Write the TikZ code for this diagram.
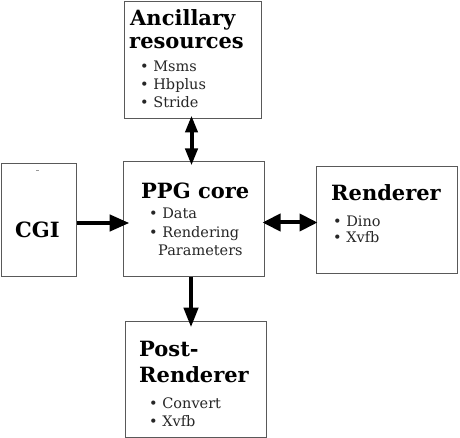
\documentclass[tikz,border=0pt]{standalone}
\usepackage{fontspec}
\setmainfont{DejaVu Serif}
\usetikzlibrary{arrows.meta}
\begin{document}
\begin{tikzpicture}[x=1pt,y=-1pt,
  box/.style={draw=black!65,line width=1pt,fill=white,inner sep=0pt},
  ttl/.style={anchor=base west,inner sep=0pt,font=\fontsize{21}{24}\selectfont\bfseries},
  itm/.style={anchor=base west,inner sep=0pt,text=black!85,font=\fontsize{14.5}{16}\selectfont},
  arr/.style={line width=4.5pt,shorten >=-7pt,-{Triangle[width=16pt,length=20pt]}},
  dbl/.style={line width=4pt,shorten >=-4pt,shorten <=-4pt,{Triangle[width=12pt,length=17pt]}-{Triangle[width=12pt,length=17pt]}}]
\useasboundingbox (0,0) rectangle (460,438);
% boxes
\node[box,minimum width=137pt,minimum height=117pt] (anc) at (192.5,60.5) {};
\node[box,minimum width=75pt,minimum height=112pt] (cgi) at (38.5,220) {};
\node[box,minimum width=141pt,minimum height=114pt] (core) at (193.5,219) {};
\node[box,minimum width=141pt,minimum height=106pt] (rend) at (386.5,220) {};
\node[box,minimum width=141pt,minimum height=116pt] (post) at (195.5,379) {};
% speck
\fill[black!40] (36,170.5) rectangle (39,171.5);
% texts
\node[ttl] (ancA) at (130,26) {Ancillary};
\node[ttl] (ancB) at (129,49) {resources};
\node[itm] (anc1) at (140,72) {• Msms};
\node[itm] (anc2) at (140,90) {• Hbplus};
\node[itm] (anc3) at (140,108) {• Stride};
\node[ttl] (cgiT) at (15,238) {CGI};
\node[ttl] (coreT) at (141,199) {PPG core};
\node[itm] (core1) at (149,219) {• Data};
\node[itm] (core2) at (149,237) {• Rendering};
\node[itm] (core3) at (158,255) {Parameters};
\node[ttl] (rendT) at (331,201) {Renderer};
\node[itm] (rend1) at (333,226) {• Dino};
\node[itm] (rend2) at (333,243) {• Xvfb};
\node[ttl] (postA) at (139,356) {Post-};
\node[ttl] (postB) at (139,382) {Renderer};
\node[itm] (post1) at (149,408) {• Convert};
\node[itm] (post2) at (149,426) {• Xvfb};
% arrows
\draw[dbl] ([xshift=-1pt]anc.south) -- ([xshift=-1pt]anc.south |- core.north);
\draw[arr] ([yshift=-3pt]cgi.east) -- ([yshift=-3pt]cgi.east -| core.west);
\draw[dbl,shorten >=-2pt,shorten <=-2pt,{Triangle[width=17pt,length=18pt]}-{Triangle[width=17pt,length=18pt]}] ([yshift=-3.5pt]core.east) -- ([yshift=-3.5pt]core.east -| rend.west);
\draw[arr,-{Triangle[width=14pt,length=20pt]}] ([xshift=-2.5pt]core.south) -- ([xshift=-2.5pt]core.south |- post.north);
\end{tikzpicture}
\end{document}
